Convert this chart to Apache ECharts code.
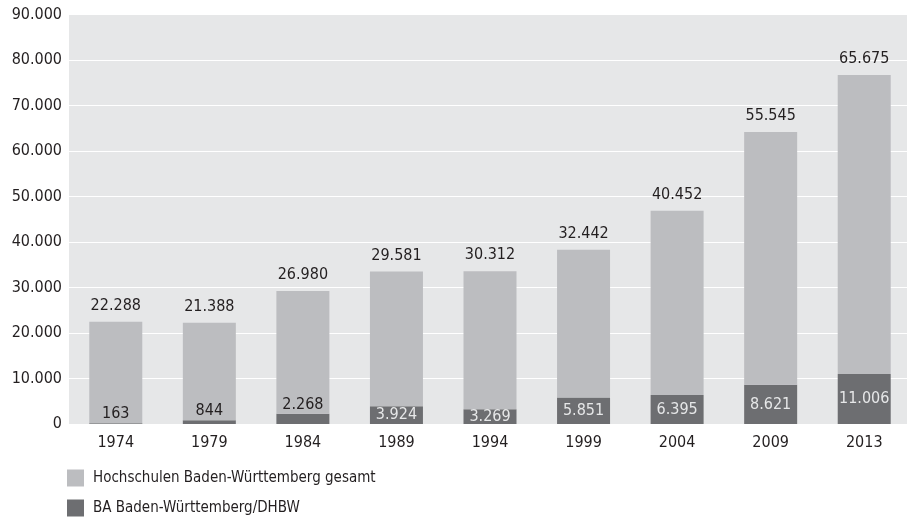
<!DOCTYPE html>
<html>
<head>
<meta charset="utf-8">
<script src="https://cdn.jsdelivr.net/npm/echarts@6/dist/echarts.min.js"></script>
<style>
html,body{margin:0;padding:0;background:#fff;}
#c{width:907px;height:518px;}
</style>
</head>
<body>
<div id="c"></div>
<script>
// ---- data ----
const years = ['1974','1979','1984','1989','1994','1999','2004','2009','2013'];
const hochschulen = [22288, 21388, 26980, 29581, 30312, 32442, 40452, 55545, 65675];
const baDhbw = [163, 844, 2268, 3924, 3269, 5851, 6395, 8621, 11006];
const seriesNames = ['Hochschulen Baden-Württemberg gesamt', 'BA Baden-Württemberg/DHBW'];
const yTicks = [0, 10000, 20000, 30000, 40000, 50000, 60000, 70000, 80000, 90000];

const FONT = "'DejaVu Sans Condensed', 'Liberation Sans Narrow', 'Liberation Sans', sans-serif";
const TXT = '#231f20';
const NUM = 16;
const fmt = v => String(v).replace(/\B(?=(\d{3})+(?!\d))/g, '.');

const legendText = {fontFamily: FONT, fontSize: 15, color: TXT, padding: [0, 0, 0, 4]};

const chart = echarts.init(document.getElementById('c'), null, {renderer: 'canvas'});
chart.setOption({
  animation: false,
  backgroundColor: '#ffffff',
  textStyle: {fontFamily: FONT},
  grid: {left: 69, top: 14.5, width: 842, height: 409.5, outerBoundsMode: 'none',
         show: true, backgroundColor: '#e6e7e8', borderWidth: 0},
  legend: [
    {left: 62, top: 464.5, itemWidth: 17, itemHeight: 17, icon: 'rect', textStyle: legendText, data: [seriesNames[0]]},
    {left: 62, top: 494.5, itemWidth: 17, itemHeight: 17, icon: 'rect', textStyle: legendText, data: [seriesNames[1]]}
  ],
  xAxis: {
    type: 'category', data: years,
    axisLine: {show: false}, axisTick: {show: false},
    axisLabel: {color: TXT, fontSize: NUM, fontFamily: FONT, margin: 11}
  },
  yAxis: {
    type: 'value', min: yTicks[0], max: yTicks[yTicks.length - 1], interval: yTicks[1] - yTicks[0],
    axisLine: {show: false}, axisTick: {show: false},
    splitLine: {lineStyle: {color: '#ffffff', width: 1.2}},
    axisLabel: {color: TXT, fontSize: NUM, fontFamily: FONT, margin: 7, formatter: v => fmt(v)}
  },
  series: [
    {
      name: seriesNames[1], type: 'bar', stack: 'a', barWidth: 53,
      itemStyle: {color: '#6d6e71'},
      data: baDhbw.map(v => ({
        value: v,
        label: v < 3000
          ? {position: 'top', distance: 1, color: TXT}
          : {position: 'inside', color: '#e6e7e8'}
      })),
      label: {show: true, fontSize: NUM, fontFamily: FONT, formatter: p => fmt(p.value)}
    },
    {
      name: seriesNames[0], type: 'bar', stack: 'a', barWidth: 53,
      itemStyle: {color: '#bcbdc0'},
      data: hochschulen,
      label: {show: true, position: 'top', distance: 8, color: TXT, fontSize: NUM, fontFamily: FONT, formatter: p => fmt(p.value)}
    }
  ]
});
</script>
</body>
</html>
